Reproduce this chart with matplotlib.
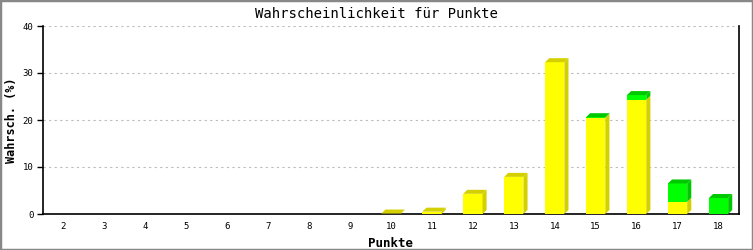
import numpy as np
import matplotlib.pyplot as plt
from matplotlib.patches import Polygon, Rectangle

# data
punkte = [2, 3, 4, 5, 6, 7, 8, 9, 10, 11, 12, 13, 14, 15, 16, 17, 18]
gelb = [0, 0, 0, 0, 0, 0, 0, 0, 0.1, 0.5, 4.3, 7.9, 32.3, 20.5, 24.3, 2.6, 0]
gruen = [0, 0, 0, 0, 0, 0, 0, 0, 0, 0, 0, 0, 0, 0.1, 1.0, 3.9, 3.4]

yellow = "#ffff00"
yellow_dark = "#d4d000"
green = "#00ff00"
green_dark = "#00c800"

fig = plt.figure(figsize=(7.53, 2.5), dpi=100)
ax = fig.add_axes([43/753, 36/250, 696/753, 188/250])

x = np.arange(len(punkte))
w = 0.47
dx = 0.1    # depth in x (data)
dy = 0.85   # depth in y (data)

def seg(xc, b, t, col, dark):
    ax.add_patch(Rectangle((xc - w/2, b), w, t - b, facecolor=col, edgecolor='none', zorder=3))
    ax.add_patch(Polygon([(xc + w/2, b), (xc + w/2 + dx, b + dy), (xc + w/2 + dx, t + dy), (xc + w/2, t)],
                         closed=True, facecolor=dark, edgecolor='none', zorder=3))

for i in range(len(punkte)):
    yv = gelb[i]
    gv = gruen[i]
    if yv <= 0 and gv <= 0:
        continue
    top_dark = yellow_dark
    if yv > 0:
        seg(x[i], 0, yv, yellow, yellow_dark)
    if gv > 0:
        seg(x[i], yv, yv + gv, green, green_dark)
        top_dark = green_dark
    t = yv + gv
    ax.add_patch(Polygon([(x[i] - w/2, t), (x[i] - w/2 + dx, t + dy), (x[i] + w/2 + dx, t + dy), (x[i] + w/2, t)],
                         closed=True, facecolor=top_dark, edgecolor='none', zorder=3))

ax.set_xlim(-0.5, len(punkte) - 0.5)
ax.set_ylim(0, 40)
ax.set_yticks([0, 10, 20, 30, 40])
ax.set_xticks(x)
ax.set_xticklabels([str(p) for p in punkte], fontfamily='DejaVu Sans Mono', fontsize=6.5)
ax.set_yticklabels(['0', '10', '20', '30', '40'], fontfamily='DejaVu Sans Mono', fontsize=6.5)
ax.tick_params(axis='x', length=0, pad=6)
ax.tick_params(axis='y', length=4, width=1, direction='out', pad=3)

ax.yaxis.grid(True, color='#bbbbbb', linestyle=(0, (2, 3)), linewidth=0.8)
ax.set_axisbelow(True)
ax.spines['top'].set_visible(False)
for s in ['left', 'bottom', 'right']:
    ax.spines[s].set_linewidth(1.2)
    ax.spines[s].set_color('black')

ax.set_xlabel('Punkte', fontfamily='DejaVu Sans Mono', fontweight='bold', fontsize=9, labelpad=4)
ax.set_ylabel('Wahrsch. (%)', fontfamily='DejaVu Sans Mono', fontweight='bold', fontsize=8.5)
ax.yaxis.label.set_verticalalignment('center')
ax.yaxis.set_label_coords(-0.045, 0.5)
fig.text(0.5, 0.945, 'Wahrscheinlichkeit für Punkte', ha='center', va='center',
         fontfamily='DejaVu Sans Mono', fontsize=10)

# frame around the image
fig.patches.append(Rectangle((0, 0), 1, 1, transform=fig.transFigure, fill=False,
                             edgecolor='#888888', linewidth=2.5))

fig.savefig('out.png', dpi=100)
